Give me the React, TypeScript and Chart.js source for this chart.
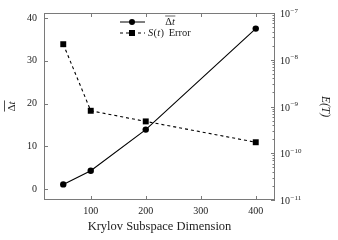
import React, { useEffect, useRef } from "react";
import { Chart, registerables } from "chart.js";

Chart.register(...registerables);

const krylovDims = [50, 100, 200, 400];
const meanDt = [1.1, 4.3, 13.9, 37.5];
const sError = [2.15e-8, 8.1e-10, 4.8e-10, 1.72e-10];
const leftTicks = [0, 10, 20, 30, 40];
const bottomTicks = [100, 200, 300, 400];
const rightTicks = [1e-11, 1e-10, 1e-9, 1e-8, 1e-7];
const rightTickExponents = ["−11", "−10", "−9", "−8", "−7"];
const xTitle = "Krylov Subspace Dimension";
const yTitle = "Δt";
const y2Title = "E(T)";
const seriesNames = ["Δt", "S(t) Error"];

const FONT = "'Liberation Serif', 'DejaVu Serif', serif";
const FRAME = "#7a7a7a";

const framePlugin = {
  id: "frameAndLegend",
  afterDraw(chart: any) {
    const { ctx, chartArea: a, scales } = chart;
    const xs = scales.x, ys = scales.y, y2 = scales.y2;
    ctx.save();
    ctx.strokeStyle = FRAME;
    ctx.lineWidth = 1;
    ctx.strokeRect(a.left + 0.5, a.top + 0.5, a.right - a.left - 1, a.bottom - a.top - 1);
    ctx.beginPath();
    for (const v of leftTicks) {
      const y = Math.round(ys.getPixelForValue(v)) + 0.5;
      ctx.moveTo(a.left, y);
      ctx.lineTo(a.left + 4, y);
    }
    for (const v of bottomTicks) {
      const x = Math.round(xs.getPixelForValue(v)) + 0.5;
      ctx.moveTo(x, a.bottom);
      ctx.lineTo(x, a.bottom - 4);
      ctx.moveTo(x, a.top);
      ctx.lineTo(x, a.top + 4);
    }
    for (const v of rightTicks) {
      const y = Math.round(y2.getPixelForValue(v)) + 0.5;
      ctx.moveTo(a.right, y);
      ctx.lineTo(a.right - 4, y);
    }
    for (let k = 0; k < rightTicks.length - 1; k++) {
      for (let m = 2; m <= 9; m++) {
        const y = Math.round(y2.getPixelForValue(rightTicks[k] * m)) + 0.5;
        ctx.moveTo(a.right, y);
        ctx.lineTo(a.right - 2.5, y);
      }
    }
    ctx.stroke();

    // right tick labels with superscript exponents
    ctx.fillStyle = "#222";
    ctx.textAlign = "left";
    ctx.textBaseline = "alphabetic";
    rightTicks.forEach((v, i) => {
      const y = y2.getPixelForValue(v);
      ctx.font = `10px ${FONT}`;
      ctx.fillText("10", a.right + 5, y + 4);
      const w = ctx.measureText("10").width;
      ctx.font = `7px ${FONT}`;
      ctx.fillText(rightTickExponents[i], a.right + 5 + w + 0.5, y - 0.5);
    });

    // left axis title (overlined)
    ctx.save();
    ctx.fillStyle = "#222";
    ctx.translate(11, (a.top + a.bottom) / 2);
    ctx.rotate(-Math.PI / 2);
    ctx.font = `11px ${FONT}`;
    ctx.textBaseline = "middle";
    ctx.textAlign = "left";
    const dW = ctx.measureText("Δ").width;
    ctx.font = `italic 11px ${FONT}`;
    const tW = ctx.measureText("t").width;
    const total = dW + tW;
    ctx.font = `11px ${FONT}`;
    ctx.fillText("Δ", -total / 2, 1);
    ctx.font = `italic 11px ${FONT}`;
    ctx.fillText("t", -total / 2 + dW, 1);
    ctx.beginPath();
    ctx.strokeStyle = "#222";
    ctx.lineWidth = 0.8;
    ctx.moveTo(-total / 2, -6.5);
    ctx.lineTo(total / 2 + 1, -6.5);
    ctx.stroke();
    ctx.restore();
    ctx.restore();

    // legend
    ctx.save();
    const ds = chart.data.datasets;
    const rows = [22, 33];
    rows.forEach((ry, i) => {
      ctx.strokeStyle = "#000";
      ctx.lineWidth = 1;
      ctx.setLineDash(i === 1 ? [3, 3] : []);
      ctx.beginPath();
      ctx.moveTo(120, ry);
      ctx.lineTo(145, ry);
      ctx.stroke();
      ctx.setLineDash([]);
      ctx.fillStyle = "#000";
      if (ds[i].pointStyle === "circle") {
        ctx.beginPath();
        ctx.arc(132, ry, 3, 0, Math.PI * 2);
        ctx.fill();
      } else {
        ctx.fillRect(132 - 3, ry - 3, 6, 6);
      }
    });
    const LF = 10.5;
    ctx.fillStyle = "#222";
    ctx.textBaseline = "middle";
    ctx.font = `${LF}px ${FONT}`;
    const d1 = ctx.measureText("Δ").width;
    ctx.font = `italic ${LF}px ${FONT}`;
    const t1 = ctx.measureText("t").width;
    const sx = 170 - (d1 + t1) / 2;
    ctx.font = `${LF}px ${FONT}`;
    ctx.fillText("Δ", sx, rows[0] + 0.5);
    ctx.font = `italic ${LF}px ${FONT}`;
    ctx.fillText("t", sx + d1, rows[0] + 0.5);
    ctx.strokeStyle = "#222";
    ctx.lineWidth = 0.7;
    ctx.beginPath();
    ctx.moveTo(sx, rows[0] - 6);
    ctx.lineTo(sx + d1 + t1 + 0.5, rows[0] - 6);
    ctx.stroke();
    const parts: [string, boolean][] = [["S", true], ["(", false], ["t", true], [")", false], [" Error", false]];
    let px = 148;
    for (const [txt, it] of parts) {
      ctx.font = `${it ? "italic " : ""}${LF}px ${FONT}`;
      ctx.fillText(txt, px, rows[1] + 0.5);
      px += ctx.measureText(txt).width + (txt === ")" ? 2 : 0.3);
    }
    ctx.restore();
  },
};

export default function App() {
  const ref = useRef<HTMLCanvasElement | null>(null);
  useEffect(() => {
    document.body.style.margin = "0";
    const chart = new Chart(ref.current!, {
      type: "line",
      data: {
        datasets: [
          {
            label: seriesNames[0],
            data: krylovDims.map((x, i) => ({ x, y: meanDt[i] })),
            yAxisID: "y",
            borderColor: "#000",
            backgroundColor: "#000",
            borderWidth: 1.1,
            pointStyle: "circle",
            pointRadius: 3.2,
            pointBorderWidth: 0,
          },
          {
            label: seriesNames[1],
            data: krylovDims.map((x, i) => ({ x, y: sError[i] })),
            yAxisID: "y2",
            borderColor: "#000",
            backgroundColor: "#000",
            borderWidth: 1.1,
            borderDash: [3, 3],
            pointStyle: "rect",
            pointRadius: 4.2,
            pointBorderWidth: 0,
          },
        ],
      },
      options: {
        responsive: false,
        animation: false,
        layout: { padding: { top: 10, left: 0, right: 0, bottom: 0 } },
        plugins: { legend: { display: false }, tooltip: { enabled: false } },
        scales: {
          x: {
            type: "linear",
            position: "bottom",
            min: 15,
            max: 435,
            afterBuildTicks: (s: any) => { s.ticks = bottomTicks.map((v) => ({ value: v })); },
            afterFit: (s: any) => { s.height = 40; },
            grid: { display: false, drawTicks: false },
            border: { display: false },
            ticks: { color: "#222", font: { family: FONT, size: 10 }, padding: 5, maxRotation: 0 },
            title: { display: true, text: xTitle, color: "#222", font: { family: FONT, size: 12.5 }, padding: { top: 0, bottom: 6 } },
          },
          y: {
            type: "linear",
            position: "left",
            min: -2.54,
            max: 41.14,
            afterBuildTicks: (s: any) => { s.ticks = leftTicks.map((v) => ({ value: v })); },
            afterFit: (s: any) => { s.width = 44; },
            grid: { display: false, drawTicks: false },
            border: { display: false },
            ticks: { color: "#222", font: { family: FONT, size: 10 }, padding: 7 },
            title: { display: false, text: yTitle },
          },
          y2: {
            type: "logarithmic",
            position: "right",
            min: 1e-11,
            max: 1e-7,
            afterBuildTicks: (s: any) => { s.ticks = rightTicks.map((v) => ({ value: v })); },
            afterFit: (s: any) => { s.width = 63; },
            grid: { display: false, drawTicks: false },
            border: { display: false },
            ticks: { display: false },
            title: { display: true, text: y2Title, color: "#222", font: { family: FONT, size: 11.5, style: "italic" }, padding: { top: 6, bottom: 6 } },
          },
        },
      } as any,
      plugins: [framePlugin],
    });
    return () => chart.destroy();
  }, []);
  return <canvas ref={ref} width={338} height={240} style={{ display: "block" }} />;
}
